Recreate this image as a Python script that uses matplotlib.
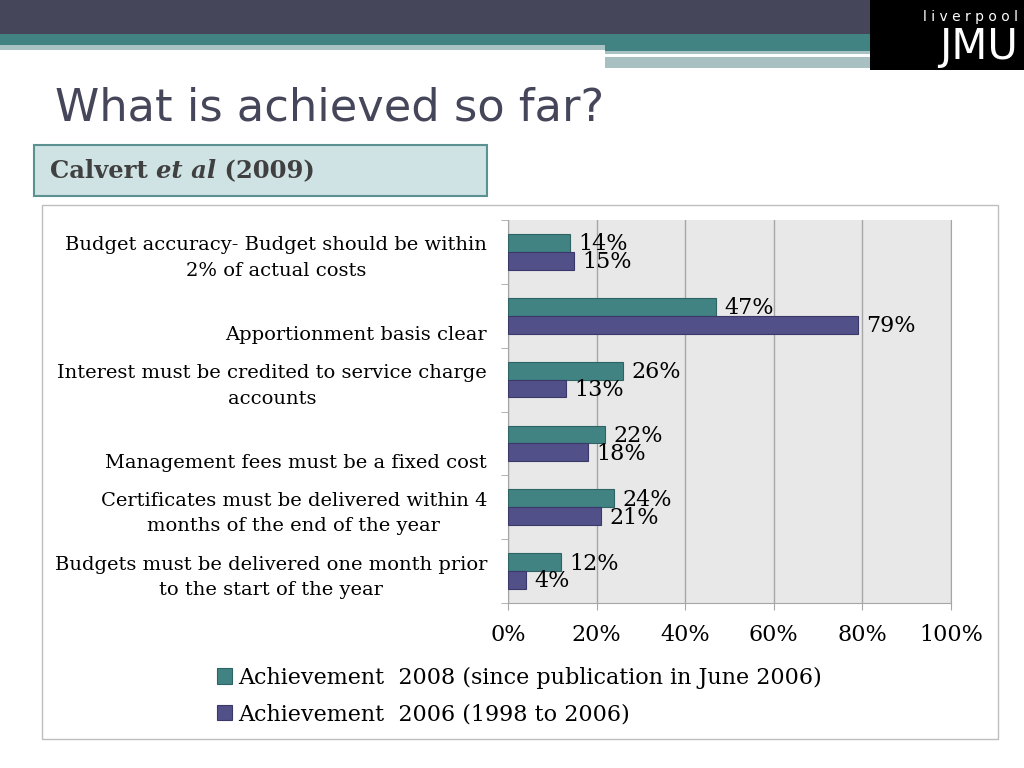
import numpy as np
import matplotlib
matplotlib.use("Agg")
import matplotlib.pyplot as plt
from matplotlib.patches import Rectangle
from matplotlib.transforms import ScaledTranslation

# ############ Datos
categorias = [
    "Budget accuracy- Budget should be within\n2% of actual costs",
    "\nApportionment basis clear",
    "Interest must be credited to service charge\naccounts",
    "\nManagement fees must be a fixed cost",
    "Certificates must be delivered within 4\nmonths of the end of the year",
    "Budgets must be delivered one month prior\nto the start of the year",
]
logro_2008 = [14, 47, 26, 22, 24, 12]
logro_2006 = [15, 79, 13, 18, 21, 4]
serie_2008 = "Achievement  2008 (since publication in June 2006)"
serie_2006 = "Achievement  2006 (1998 to 2006)"
ticks_x = [0, 20, 40, 60, 80, 100]

# ############ Estilo
TEAL = "#418383"
MORADO = "#515089"
OSCURO = "#45465a"
SERIF = "DejaVu Serif"

W, H = 1024, 768
fig = plt.figure(figsize=(10.24, 7.68), dpi=100)


def caja(x0, y0, x1, y1, **kw):
    # rectangulo en pixeles (origen arriba a la izquierda), detras de los ejes
    fig.add_artist(Rectangle((x0 / W, 1 - y1 / H), (x1 - x0) / W, (y1 - y0) / H,
                             transform=fig.transFigure, zorder=-5, **kw))


# Cabecera de la diapositiva
caja(0, 0, 1024, 34, facecolor=OSCURO, edgecolor="none")
caja(0, 34, 870, 45, facecolor=TEAL, edgecolor="none")
caja(0, 45, 605, 50, facecolor="#a9c3c5", edgecolor="none")
caja(605, 45, 870, 51, facecolor=TEAL, edgecolor="none")
caja(605, 51, 870, 54, facecolor="#a9c3c5", edgecolor="none")
caja(605, 57, 870, 68, facecolor="#a9c0c3", edgecolor="none")
caja(870, 0, 1024, 70, facecolor="black", edgecolor="none")
fig.text(1018 / W, 1 - 17 / H, "l i v e r p o o l", color="white", fontsize=10,
         ha="right", va="center", family="DejaVu Sans")
fig.text(1018 / W, 1 - 47 / H, "JMU", color="white", fontsize=30,
         ha="right", va="center", family="DejaVu Sans")

# Titulo
fig.text(55 / W, 1 - 108 / H, "What is achieved so far?", color=OSCURO,
         fontsize=32.2, va="center", ha="left", family="DejaVu Sans")

# Caja de referencia
caja(34, 145, 487, 196, facecolor="#cfe2e4", edgecolor="#5c9191", linewidth=1.5)

# Marco del grafico
caja(42, 205, 998, 739, facecolor="white", edgecolor="#bdbdbd", linewidth=1)

# ############ Grafico de barras
ax = fig.add_axes([508 / W, 1 - 603 / H, (951 - 508) / W, (603 - 220) / H])
ax.set_facecolor("#e8e8e8")

t1 = ax.annotate("Calvert ", xy=(50 / W, 1 - 171 / H), xycoords="figure fraction",
                 va="center", ha="left", fontsize=17.5, weight="bold",
                 family=SERIF, color="#404040", annotation_clip=False)
t2 = ax.annotate("et al", xy=(1, 0), xycoords=t1, va="bottom", ha="left",
                 fontsize=17.5, weight="bold", style="italic", family=SERIF,
                 color="#404040", annotation_clip=False)
ax.annotate(" (2009)", xy=(1, 0), xycoords=t2, va="bottom", ha="left",
            fontsize=17.5, weight="bold", family=SERIF, color="#404040",
            annotation_clip=False)

y = np.arange(len(categorias))[::-1]
alto = 0.28
b1 = ax.barh(y + alto / 2, logro_2008, height=alto, color=TEAL,
             edgecolor="#2e6464", linewidth=0.8, label=serie_2008, zorder=3)
b2 = ax.barh(y - alto / 2, logro_2006, height=alto, color=MORADO,
             edgecolor="#393869", linewidth=0.8, label=serie_2006, zorder=3)

for barras, vals in ((b1, logro_2008), (b2, logro_2006)):
    for rect, v in zip(barras, vals):
        ax.annotate(f"{v}%", xy=(v, rect.get_y() + rect.get_height() / 2),
                    xytext=(6, -1), textcoords="offset points", va="center",
                    ha="left", fontsize=16, family=SERIF, color="black",
                    zorder=4, annotation_clip=False)

ax.set_xlim(0, 100)
ax.set_ylim(-0.5, len(categorias) - 0.5)
ax.set_xticks(ticks_x)
ax.set_xticklabels([f"{t}%" for t in ticks_x], fontsize=16, family=SERIF)
ax.xaxis.grid(True, color="#a6a6a6", linewidth=1, zorder=0)
ax.set_axisbelow(True)
ax.tick_params(axis="x", direction="out", length=5, color="#a6a6a6", pad=10)

ax.set_yticks(y)
ax.set_yticklabels(categorias, fontsize=14, family=SERIF, ha="right",
                   multialignment="center", linespacing=1.55)
ax.tick_params(axis="y", length=0, pad=15)
ax.set_yticks(np.arange(len(categorias) + 1) - 0.5, minor=True)
ax.tick_params(axis="y", which="minor", direction="out", length=5, color="#a6a6a6")
desplaza = ScaledTranslation(0, -0.3 / 72, fig.dpi_scale_trans)
for lab in ax.get_yticklabels():
    lab.set_transform(lab.get_transform() + desplaza)

ax.spines["top"].set_visible(False)
for lado in ("left", "bottom", "right"):
    ax.spines[lado].set_color("#a6a6a6")

fig.legend(handles=[b1, b2], loc="upper left", bbox_to_anchor=(208 / W, 1 - 658 / H),
           frameon=False, prop={"family": SERIF, "size": 16}, handlelength=0.7,
           handleheight=0.7, handletextpad=0.25, labelspacing=0.65, borderaxespad=0)

fig.savefig("out.png", dpi=100)
